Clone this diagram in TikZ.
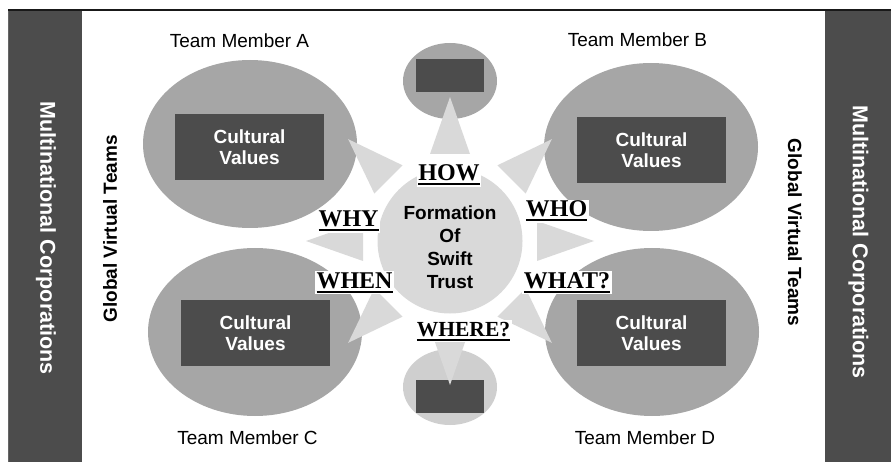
\documentclass[tikz,border=0pt]{standalone}
\usepackage{fontspec}
\setmainfont{Liberation Sans}
\newfontfamily\askfont{Liberation Serif}
\usetikzlibrary{shapes.geometric}
\definecolor{boxgray}{gray}{0.30}
\definecolor{blobgray}{gray}{0.65}
\definecolor{palegray}{gray}{0.85}
\definecolor{lowgray}{gray}{0.81}

% question words with a heavy rule under them
\newcommand\ulword[1]{\setbox0=\hbox{#1}\rlap{\vrule height -2.5pt depth 4.5pt width \wd0}\box0}

\begin{document}
\begin{tikzpicture}[x=1pt,y=-1pt]

	\tikzstyle{member}=[ellipse,fill=blobgray,inner sep=0pt,minimum width=214pt,minimum height=168pt]
	\tikzstyle{values}=[fill=boxgray,text=white,align=center,inner sep=0pt,minimum width=149pt,minimum height=66pt,font=\bfseries\fontsize{19}{21.5}\selectfont]
	\tikzstyle{nametag}=[anchor=base,font=\fontsize{19}{21}\selectfont]
	\tikzstyle{sidetext}=[font=\bfseries\fontsize{19}{21}\selectfont]
	\tikzstyle{corp}=[text=white,font=\bfseries\fontsize{21.5}{24}\selectfont]
	\tikzstyle{ask}=[fill=white,inner sep=1.5pt,anchor=base,font=\askfont\bfseries\fontsize{24}{24}\selectfont]

	\useasboundingbox (0,0) rectangle (891,462);

	% frame and side bars
	\fill [boxgray] (9,10.5) rectangle (82,462);
	\fill [boxgray] (825,10.5) rectangle (891,462);
	\draw [black!60,line width=0.8pt] (8.5,462) -- (8.5,10.5);
	\draw [black!90,line width=2pt] (8,10.5) -- (891,10.5);

	\node [corp,rotate=-90] (corpL) at (46,238)		{Multinational Corporations};
	\node [corp,rotate=-90] (corpR) at (858.5,242)	{Multinational Corporations};
	\node [sidetext,rotate=90]	(teamsL) at (110,229)	{Global Virtual Teams};
	\node [sidetext,rotate=-90] (teamsR) at (795,232.5) {Global Virtual Teams};

	% the four members
	\node [member] (memA) at (250,144) {};
	\node [member] (memB) at (651,147) {};
	\node [member] (memC) at (255,332) {};
	\node [member] (memD) at (652,332) {};

	\node [values] (valA) at (249.5,147)	{Cultural\\Values};
	\node [values] (valB) at (651.5,150)	{Cultural\\Values};
	\node [values] (valC) at (255.5,333)	{Cultural\\Values};
	\node [values] (valD) at (651.5,333)	{Cultural\\Values};

	\node [nametag] (nameA) at (239.5,48)	{Team Member A};
	\node [nametag] (nameB) at (637.5,47)	{Team Member B};
	\node [nametag] (nameC) at (247.5,444)	{Team Member C};
	\node [nametag] (nameD) at (645,444)	{Team Member D};

	% small ones above and below
	\node [ellipse,fill=blobgray,inner sep=0pt,minimum width=94pt,minimum height=76pt] (upper) at (450,81) {};
	\node [ellipse,fill=lowgray,inner sep=0pt,minimum width=94pt,minimum height=76pt] (lower) at (450,387) {};
	\node [fill=boxgray,inner sep=0pt,minimum width=68pt,minimum height=33pt] (upperbox) at (450,75.5) {};
	\node [fill=boxgray,inner sep=0pt,minimum width=68pt,minimum height=33pt] (lowerbox) at (450,396.5) {};

	% hub with its rays
	\node [circle,fill=palegray,inner sep=0pt,minimum size=145pt] (hub) at (450,241) {};
	\foreach \a in {0,45,...,315}
		\fill [palegray,shift={(hub.center)},rotate=\a] (144,0) -- (87,20) -- (87,-20) -- cycle;

	\node [align=center,font=\bfseries\fontsize{19}{23}\selectfont] (trust) at (450,247.5) {Formation\\Of\\Swift\\Trust};

	\node [ask] (how)	at (449,181)	{\ulword{HOW}};
	\node [ask] (why)	at (348.5,227)	{\ulword{WHY}};
	\node [ask] (when)	at (354.5,288)	{\ulword{WHEN}};
	\node [ask] (who)	at (556.5,217)	{\ulword{WHO}};
	\node [ask] (what)	at (567,288)	{\ulword{WHAT?}};
	\node [ask,font=\askfont\bfseries\fontsize{21.5}{22}\selectfont] (where) at (463.5,336) {\ulword{WHERE?}};

\end{tikzpicture}
\end{document}
